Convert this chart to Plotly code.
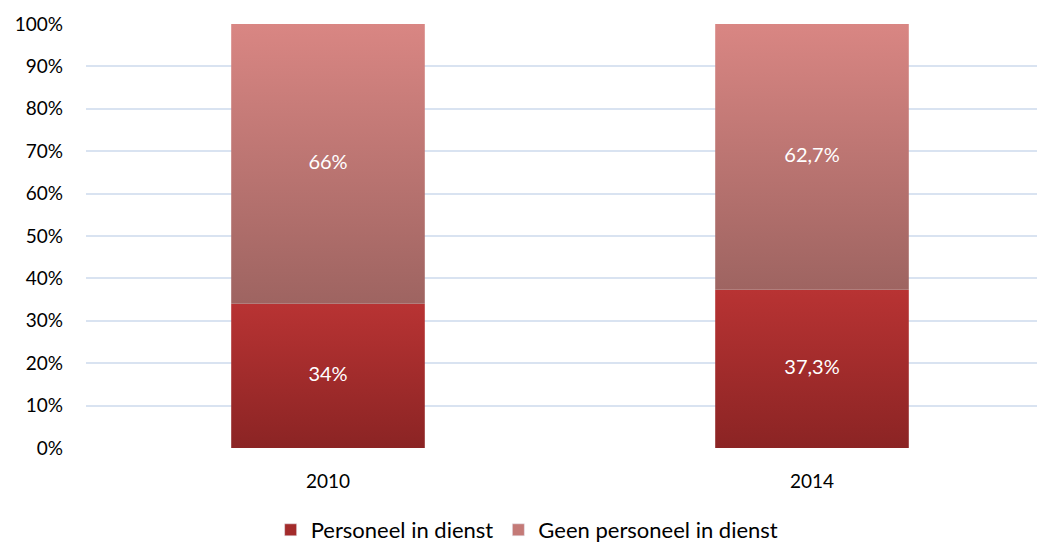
import plotly.graph_objects as go

years = ["2010", "2014"]
personeel = [34.0, 37.3]
geen_personeel = [66.0, 62.7]
labels_personeel = ["34%", "37,3%"]
labels_geen = ["66%", "62,7%"]
y_ticks = [0, 10, 20, 30, 40, 50, 60, 70, 80, 90, 100]

FONT = "Lato"
BAR_W = 0.4
series = [
    ("Personeel in dienst", personeel, labels_personeel, "#8B2424", "#B83333", "#A32B2B"),
    ("Geen personeel in dienst", geen_personeel, labels_geen, "#9E6461", "#D98683", "#C47A77"),
]

fig = go.Figure()
xs = list(range(len(years)))
base = [0.0] * len(years)
for name, vals, labs, c_bot, c_top, c_leg in series:
    for i, v in enumerate(vals):
        x0, x1 = xs[i] - BAR_W / 2, xs[i] + BAR_W / 2
        y0, y1 = base[i], base[i] + v
        fig.add_trace(go.Scatter(
            x=[x0, x1, x1, x0, x0], y=[y0, y0, y1, y1, y0],
            mode="lines", fill="toself", line=dict(width=0),
            fillgradient=dict(type="vertical", colorscale=[[0, c_bot], [1, c_top]]),
            showlegend=False, hoverinfo="skip"))
    fig.add_trace(go.Scatter(
        x=xs, y=[base[i] + vals[i] / 2 for i in range(len(years))],
        mode="text", text=labs,
        textfont=dict(family=FONT, size=20, color="white"),
        showlegend=False, hoverinfo="skip"))
    fig.add_trace(go.Bar(x=[None], y=[None], name=name, marker=dict(color=c_leg)))
    base = [base[i] + vals[i] for i in range(len(years))]

W, H = 1037, 535
fig.update_layout(
    width=W, height=H,
    margin=dict(l=78, r=0, t=16, b=95, autoexpand=False),
    paper_bgcolor="white", plot_bgcolor="white",
    font=dict(family=FONT, size=19, color="#000000"),
    xaxis=dict(range=[-0.5, 1.5 - 9 / 484], tickvals=xs, ticktext=years,
               showgrid=False, zeroline=False, showline=False, ticks="",
               automargin=False, ticklabelstandoff=20,
               tickfont=dict(size=19, color="#000000")),
    yaxis=dict(range=[0, 100], tickvals=y_ticks, ticktext=[f"{t}%" for t in y_ticks],
               showgrid=True, gridcolor="#D9E3F1", gridwidth=1.5,
               zeroline=False, showline=False, ticks="", ticklabelstandoff=22,
               automargin=False,
               tickfont=dict(size=19, color="#000000")),
    showlegend=True,
    legend=dict(orientation="h", x=0.460, xanchor="center",
                yref="container", y=13 / H, yanchor="middle",
                font=dict(family=FONT, size=22, color="#000000"),
                itemwidth=30, traceorder="normal"),
)
fig.write_html("out.html")
